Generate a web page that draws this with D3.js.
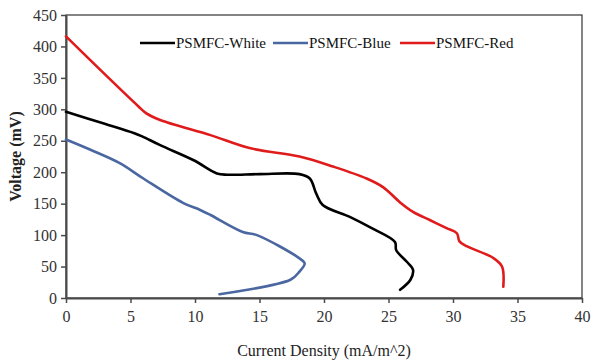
<!DOCTYPE html>
<html><head><meta charset="utf-8">
<script src="https://cdn.jsdelivr.net/npm/d3@7"></script>
<style>body{margin:0;background:#fff}svg{display:block}</style>
</head><body><div id="chart"></div>
<script>
const xTicks = [0,5,10,15,20,25,30,35,40];
const yTicks = [0,50,100,150,200,250,300,350,400,450];
const seriesNames = ["PSMFC-White","PSMFC-Blue","PSMFC-Red"];
const seriesColors = ["#000000","#4a67a1","#e01b1b"];
const whiteX = [0,3,5.3,5.9,7.3,9.9,11.7,12.5,15.0,18.1,18.9,19.4,19.9,22.0,23.7,25.5,25.6,26.4,26.9,26.7,25.9];
const whiteY = [296,277,262,257,243,219,198,196,197,197,190,166,148,129,111,89,76,58,45,29,13];
const blueX = [0,2.2,4.2,6.0,9.1,10.4,11.2,13.7,14.8,18.1,18.5,18.1,17.4,11.9];
const blueY = [252,233,214,190,151,140,132,105,100,63,55,42,29,6];
const redX = [0,3,5.6,6.2,7.3,11.2,14.3,18.1,20.7,23.3,24.6,25.9,26.9,28.2,29.5,30.3,30.5,31.1,33.1,33.8,33.9];
const redY = [416,356,305,294,283,259,238,225,209,190,176,152,137,124,111,103,90,82,64,50,18];

const FONT = "'Times New Roman', 'Liberation Serif', 'DejaVu Serif', serif";
const W=591,H=363;
const svg=d3.select("#chart").append("svg").attr("width",W).attr("height",H).style("font-family",FONT);
const x=d3.scaleLinear().domain([0,40]).range([66,582]);
const y=d3.scaleLinear().domain([0,450]).range([298,15]);

svg.append("rect").attr("x",x(0)).attr("y",y(450)).attr("width",x(40)-x(0)).attr("height",y(0)-y(450))
  .attr("fill","none").attr("stroke","#333").attr("stroke-width",1.2);

const xa=svg.append("g").attr("transform",`translate(0,${y(0)})`)
  .call(d3.axisBottom(x).tickValues(xTicks).tickSize(5).tickPadding(8).tickSizeOuter(0));
const ya=svg.append("g").attr("transform",`translate(${x(0)},0)`)
  .call(d3.axisLeft(y).tickValues(yTicks).tickSize(5).tickPadding(4).tickSizeOuter(0));
[xa,ya].forEach(a=>{
  a.attr("font-family",FONT).attr("font-size",16);
  a.select(".domain").attr("stroke","#4a4a4a").attr("stroke-width",2);
  a.selectAll(".tick line").attr("stroke","#4a4a4a").attr("stroke-width",1.5);
  a.selectAll("text").attr("fill","#333").style("font-family",FONT);
});

const line=d3.line().x(d=>x(d[0])).y(d=>y(d[1])).curve(d3.curveCatmullRom.alpha(0.5));
const data=[d3.zip(whiteX,whiteY),d3.zip(blueX,blueY),d3.zip(redX,redY)];
data.forEach((d,i)=>{
  svg.append("path").datum(d).attr("d",line).attr("fill","none")
    .attr("stroke",seriesColors[i]).attr("stroke-width",2.6).attr("stroke-linejoin","round").attr("stroke-linecap","round");
});

const lg=svg.append("g");
const legX=[140,273,400];
seriesNames.forEach((n,i)=>{
  lg.append("line").attr("x1",legX[i]).attr("x2",legX[i]+35).attr("y1",43).attr("y2",43)
    .attr("stroke",seriesColors[i]).attr("stroke-width",2.6);
  lg.append("text").attr("x",legX[i]+36).attr("y",48).attr("font-size",15).attr("fill","#111").style("font-family",FONT).text(n);
});

svg.append("text").attr("x",(x(0)+x(40))/2).attr("y",356).attr("text-anchor","middle").style("font-family",FONT)
  .attr("font-size",16).attr("fill","#222").text("Current Density (mA/m^2)");
svg.append("text").attr("transform",`translate(21,${(y(0)+y(450))/2}) rotate(-90)`).attr("text-anchor","middle").style("font-family",FONT)
  .attr("font-size",16).attr("font-weight","bold").attr("fill","#222").text("Voltage (mV)");
</script></body></html>
